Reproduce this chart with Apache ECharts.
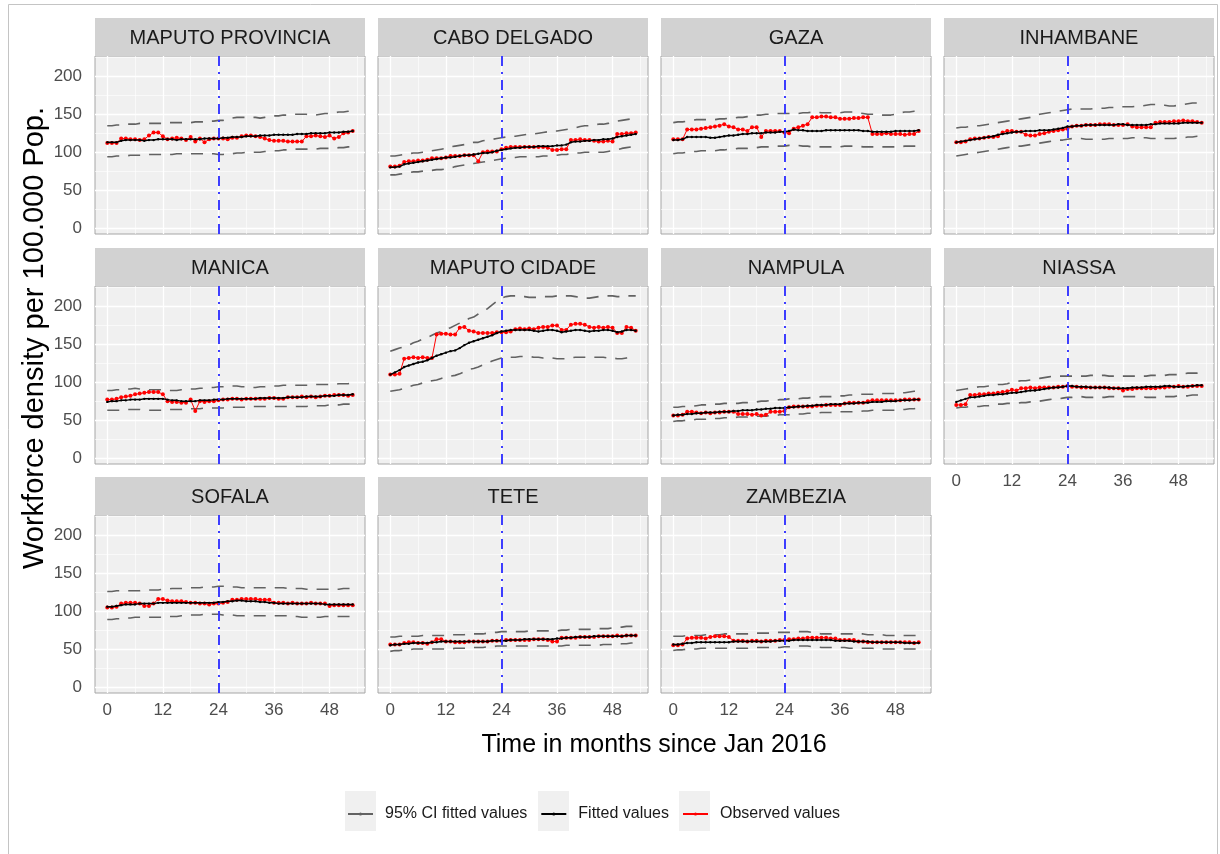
<!DOCTYPE html>
<html>
<head>
<meta charset="utf-8">
<script src="https://cdn.jsdelivr.net/npm/echarts@6/dist/echarts.min.js"></script>
<style>
html,body{margin:0;padding:0;background:#ffffff;}
#chart{width:1220px;height:854px;}
</style>
</head>
<body>
<div id="chart"></div>
<script>
// ---------- categories / ticks ----------
const panels = ['MAPUTO PROVINCIA','CABO DELGADO','GAZA','INHAMBANE','MANICA','MAPUTO CIDADE','NAMPULA','NIASSA','SOFALA','TETE','ZAMBEZIA'];
const months = [0,1,2,3,4,5,6,7,8,9,10,11,12,13,14,15,16,17,18,19,20,21,22,23,24,25,26,27,28,29,30,31,32,33,34,35,36,37,38,39,40,41,42,43,44,45,46,47,48,49,50,51,52,53];
const xTicks = [0,12,24,36,48];
const xMinor = [6,18,30,42,54];
const yTicks = [0,50,100,150,200];
const yMinor = [25,75,125,175,225];
const interventionMonth = 24;
const legendNames = ['95% CI fitted values','Fitted values','Observed values'];
const xTitle = 'Time in months since Jan 2016';
const yTitle = 'Workforce density per 100.000 Pop.';

// ---------- series values (month 0..53) ----------
// MAPUTO PROVINCIA
const mpObs = [112,112,112,118,118,117,117,116,117,122,126,126,121,117,118,119,118,116,120,114,118,113,117,118,118,118,117,119,119,121,122,122,121,120,118,116,115,115,115,114,114,114,114,121,121,122,121,120,122,118,120,125,126,128];
const mpFit = [113,113,113,115,116,116,116,116,115,116,116,117,117,117,117,116,117,117,117,117,117,118,118,118,118,119,119,120,120,120,121,121,121,122,122,122,123,123,123,123,123,124,124,124,125,125,125,125,126,126,126,127,127,128];
const mpHi  = [135,135,136,136,137,137,137,138,138,138,138,138,138,139,139,139,139,139,139,140,140,140,141,141,142,142,143,145,146,146,146,146,146,145,146,147,148,148,149,149,150,150,150,150,149,149,150,151,151,152,153,153,154,155];
const mpLo  = [94,94,95,95,95,96,96,96,96,97,97,97,97,97,97,98,98,98,98,98,98,98,98,98,97,97,98,98,99,99,100,100,100,100,101,101,102,102,103,103,104,104,104,104,104,104,105,105,105,105,106,106,107,107];
// CABO DELGADO
const cdObs = [81,81,82,87,88,88,89,89,90,92,92,92,93,95,95,95,96,96,96,88,100,101,101,101,104,106,107,107,107,107,107,107,107,107,106,103,103,104,104,116,116,117,116,116,115,114,114,115,114,124,124,125,125,126];
const cdFit = [80,80,81,84,85,86,87,88,89,90,91,92,93,93,94,95,96,96,97,98,99,99,100,102,103,104,105,106,106,107,107,107,108,108,108,108,109,109,110,113,114,114,115,115,116,116,117,117,118,120,121,122,123,124];
const cdHi  = [95,95,96,97,98,99,99,100,101,102,103,104,105,107,108,109,110,112,113,113,115,116,117,118,119,120,121,121,122,123,124,124,125,126,127,128,128,129,130,131,132,134,135,135,136,137,137,138,139,141,142,143,144,145];
const cdLo  = [70,70,71,72,73,74,74,75,76,76,77,77,78,79,81,82,83,84,85,86,87,88,89,90,91,92,93,93,94,94,94,94,94,95,95,95,96,97,97,98,99,99,100,100,100,100,100,101,102,103,105,106,107,108];
// GAZA
const gzObs = [117,117,117,130,130,130,131,132,133,134,135,137,134,133,130,130,128,133,133,120,128,128,128,128,126,125,131,133,135,137,146,146,147,147,146,146,144,144,144,145,145,146,146,124,124,124,125,124,124,124,123,124,124,128];
const gzFit = [116,116,117,120,120,120,120,120,119,119,120,121,122,122,123,124,124,125,125,125,126,126,126,127,127,128,130,129,129,128,128,128,128,129,129,129,129,129,129,129,129,128,128,127,127,127,127,127,128,128,128,128,128,129];
const gzHi  = [139,140,140,141,142,143,143,143,143,143,144,144,145,145,146,146,147,148,149,149,150,150,151,151,151,151,151,151,152,152,153,153,152,152,152,152,152,153,153,153,152,151,150,150,150,149,149,149,150,152,153,153,154,154];
const gzLo  = [98,99,99,100,101,101,102,102,102,102,103,103,104,104,105,105,105,106,106,107,107,107,108,108,108,109,109,109,108,108,107,107,107,107,107,107,107,108,108,108,108,107,107,107,107,107,107,107,107,107,108,108,108,108];
// INHAMBANE
const inObs = [113,113,114,117,118,118,119,120,120,121,126,128,128,127,127,123,122,122,124,125,127,128,129,130,131,134,135,135,136,136,136,137,137,137,136,136,136,137,134,133,133,133,133,139,140,140,140,141,141,142,141,141,140,139];
const inFit = [113,114,115,116,117,118,119,120,121,123,124,125,126,127,127,128,128,128,129,129,129,130,131,132,134,134,135,135,136,136,136,136,136,136,136,137,137,136,136,136,136,136,137,137,138,138,138,138,138,139,139,139,139,139];
const inHi  = [132,133,133,134,135,135,136,137,138,139,140,141,142,143,144,145,146,148,150,151,152,153,154,155,156,157,157,157,157,157,158,158,158,159,159,160,160,160,160,161,161,162,163,163,162,162,161,161,162,163,164,165,165,166];
const inLo  = [95,96,97,98,99,100,101,102,103,104,105,106,107,108,108,109,110,111,112,113,114,115,116,116,117,118,118,118,117,117,117,117,117,118,118,118,118,118,119,119,119,119,118,118,118,118,118,118,119,119,120,120,121,121];
// MANICA
const maObs = [77,77,78,80,81,82,84,85,86,87,87,87,84,75,74,74,73,73,77,62,75,74,75,75,76,77,77,78,78,77,78,78,78,78,78,79,79,78,78,80,80,80,81,80,81,80,81,82,82,83,83,83,82,83];
const maFit = [74,75,75,76,76,77,77,77,78,78,78,78,78,77,76,76,75,75,75,75,76,76,76,77,77,77,78,78,78,78,78,78,78,79,79,79,79,79,79,80,80,80,80,81,81,81,81,82,82,82,83,83,83,84];
const maHi  = [89,89,90,90,91,91,92,91,90,90,90,90,90,89,89,89,90,90,91,91,92,92,93,93,94,94,94,95,95,94,94,93,93,94,94,95,95,95,96,96,96,96,96,96,96,97,97,97,97,97,98,98,98,99];
const maLo  = [63,63,63,63,64,64,64,64,63,63,63,63,63,64,64,64,64,65,65,65,65,66,66,66,66,66,67,67,67,67,67,68,68,68,68,68,68,68,68,68,68,68,68,68,69,69,69,69,70,70,70,71,71,71];
// MAPUTO CIDADE
const mcObs = [110,110,111,131,132,133,132,133,132,132,163,164,164,163,163,172,173,168,167,165,165,165,165,166,166,166,167,170,171,170,171,170,172,173,173,175,175,169,169,176,177,177,176,173,172,173,172,173,172,165,165,173,172,168];
const mcFit = [110,113,116,120,122,124,126,127,129,132,135,137,139,141,142,145,149,152,154,156,158,160,162,165,167,168,169,169,169,169,169,168,167,168,169,169,168,166,167,168,169,169,168,167,168,168,169,169,168,166,167,169,169,168];
const mcHi  = [141,143,145,147,149,152,154,157,159,162,165,167,170,172,175,178,181,184,186,190,194,197,202,207,211,213,214,214,213,213,212,212,212,213,213,213,214,214,214,214,213,212,211,211,212,213,214,214,214,213,213,214,214,214];
const mcLo  = [88,89,90,92,94,96,97,99,101,102,103,105,107,108,109,111,114,117,118,120,123,125,128,130,132,133,133,133,134,134,134,133,133,132,132,132,131,131,131,132,133,133,133,133,133,133,133,132,132,131,131,132,133,133];
// NAMPULA
const naObs = [56,56,57,61,61,60,59,60,59,60,60,61,61,61,58,58,58,57,58,56,57,61,61,61,62,67,68,68,68,68,68,69,69,70,70,70,70,72,73,73,73,73,75,76,76,76,76,76,76,76,77,77,77,77];
const naFit = [56,57,57,58,58,59,59,60,60,60,61,61,61,62,62,63,63,63,64,64,65,65,66,66,66,67,67,68,68,69,69,70,70,70,71,71,71,72,72,72,73,73,73,74,74,74,75,75,75,76,76,76,77,77];
const naHi  = [67,67,68,68,68,69,70,70,70,71,71,72,72,72,72,73,73,74,74,75,75,76,76,77,77,78,78,78,79,79,80,80,81,81,81,81,82,82,83,83,84,84,84,84,84,85,85,85,85,86,86,87,88,88];
const naLo  = [48,49,49,50,50,51,51,51,52,52,52,53,53,53,54,54,54,55,55,55,55,56,56,57,57,57,58,58,58,59,59,59,60,60,60,61,61,61,61,61,61,62,62,63,63,63,63,63,63,64,64,65,65,66];
// NIASSA
const niObs = [70,70,71,83,83,84,84,85,85,86,87,88,90,89,92,92,93,92,93,93,93,93,94,94,95,94,94,93,93,93,93,93,93,92,92,92,89,91,91,92,92,92,92,92,93,93,94,94,95,94,94,95,95,95];
const niFit = [74,76,78,80,80,81,82,83,83,84,84,85,86,86,87,88,89,89,90,91,92,93,93,94,95,95,94,94,94,93,93,93,93,93,92,92,92,92,93,93,93,94,94,94,94,95,95,94,94,94,95,95,96,96];
const niHi  = [89,90,91,92,93,94,94,95,96,97,97,98,100,101,102,102,103,104,105,106,107,108,108,108,108,108,108,108,108,109,109,109,109,108,108,108,108,108,108,108,108,108,109,109,109,109,110,110,110,111,112,112,112,113];
const niLo  = [66,67,67,68,68,68,69,69,70,71,71,72,72,72,73,73,74,75,75,76,77,78,78,79,80,80,81,81,80,80,80,80,80,81,81,81,81,81,81,81,81,80,80,80,80,81,81,81,82,82,82,83,83,83];
// SOFALA
const soObs = [105,105,106,110,111,111,111,110,107,107,110,116,116,114,113,113,113,112,111,111,110,110,109,110,110,111,112,115,115,116,116,116,116,115,115,115,111,111,111,110,111,110,110,110,111,110,110,110,107,108,108,108,108,108];
const soFit = [106,106,107,108,109,109,109,110,110,110,110,111,111,111,111,111,111,111,111,111,111,111,111,111,112,112,113,113,114,114,113,113,113,112,112,111,111,110,110,110,110,110,110,110,110,110,110,109,109,109,109,109,109,109];
const soHi  = [126,126,127,127,127,127,127,127,128,128,128,128,129,129,130,130,130,130,131,131,131,132,132,132,133,133,133,132,132,131,131,131,131,131,131,131,131,131,131,130,130,130,130,129,129,129,129,129,129,129,129,130,130,130];
const soLo  = [89,89,90,90,91,91,92,92,92,92,92,92,92,93,93,93,94,94,95,95,95,96,96,96,96,95,95,95,94,94,94,94,94,94,94,94,94,94,94,94,93,93,92,92,92,92,92,93,93,93,93,93,93,93];
// TETE
const teObs = [56,56,56,58,59,59,58,58,57,59,63,63,60,60,59,59,59,60,60,60,60,60,61,61,61,62,62,62,62,62,62,63,63,63,62,60,60,65,65,65,65,66,66,66,66,67,67,67,67,68,67,68,68,68];
const teFit = [55,56,56,57,57,58,58,58,58,59,59,60,60,60,60,60,60,60,60,60,60,60,61,61,61,61,62,62,62,63,63,63,63,63,63,63,64,64,65,65,66,66,66,66,67,67,67,67,67,67,67,68,68,68];
const teHi  = [66,66,67,67,67,67,67,68,68,68,68,68,68,69,69,69,69,70,70,70,70,71,72,72,73,73,73,73,73,73,74,74,74,74,74,74,74,75,75,76,76,76,76,76,76,77,77,77,78,78,79,80,80,80];
const teLo  = [47,48,48,49,49,50,50,50,50,50,50,50,50,50,51,51,51,51,52,52,52,53,53,54,54,54,54,54,54,54,54,54,54,54,54,54,54,54,55,55,55,55,55,55,55,55,56,56,56,56,57,57,58,58];
// ZAMBEZIA
const zaObs = [55,55,56,64,65,65,65,64,66,67,67,67,66,61,61,61,60,61,61,60,61,61,61,62,62,63,63,64,64,65,65,65,65,65,64,64,62,62,62,62,60,60,59,59,59,59,59,59,59,59,59,59,58,59];
const zaFit = [56,56,57,58,58,59,59,59,59,59,59,59,59,60,60,60,60,60,60,60,60,60,61,61,61,61,62,62,62,62,62,62,62,62,62,61,61,61,61,60,60,60,60,59,59,59,59,59,59,59,58,58,58,58];
const zaHi  = [67,67,67,68,68,68,68,69,69,69,69,70,70,70,70,70,70,70,71,71,71,71,72,72,72,72,72,73,73,73,72,71,70,70,70,70,70,70,70,70,70,70,69,69,69,69,68,68,68,68,68,68,68,68];
const zaLo  = [48,49,49,50,50,50,51,51,51,51,51,51,51,51,51,51,51,52,52,52,52,52,52,52,53,53,53,54,54,54,53,53,52,52,52,52,52,52,51,51,51,51,51,51,50,50,50,50,50,50,50,50,50,50];

const panelSeries = [
  [mpObs, mpFit, mpHi, mpLo],
  [cdObs, cdFit, cdHi, cdLo],
  [gzObs, gzFit, gzHi, gzLo],
  [inObs, inFit, inHi, inLo],
  [maObs, maFit, maHi, maLo],
  [mcObs, mcFit, mcHi, mcLo],
  [naObs, naFit, naHi, naLo],
  [niObs, niFit, niHi, niLo],
  [soObs, soFit, soHi, soLo],
  [teObs, teFit, teHi, teLo],
  [zaObs, zaFit, zaHi, zaLo]
];

// ---------- layout / styles ----------
const FONT = '"Liberation Sans", Arial, Helvetica, sans-serif';
const colLeft = [95, 378, 661, 944];
const rowTop = [56, 286, 515];
const PW = 270, PH = 178, STRIP_H = 38;
const PANEL_BG = '#F0F0F0', STRIP_BG = '#D2D2D2';

const chart = echarts.init(document.getElementById('chart'), null, {renderer: 'canvas'});
const grid = [], xAxis = [], yAxis = [], series = [];
const graphic = [];

// outer frame
graphic.push({type: 'rect', z: 0, shape: {x: 8.5, y: 4.5, width: 1209, height: 900},
  style: {fill: 'none', stroke: '#c4c4c4', lineWidth: 1}});

const pairs = arr => months.map((m, k) => [m, arr[k]]);

panels.forEach((name, i) => {
  const col = i % 4, row = Math.floor(i / 4);
  const left = colLeft[col], top = rowTop[row];
  const showX = row === 2 || (row === 1 && col === 3);
  const showY = col === 0;
  grid.push({left: left, top: top, width: PW, height: PH, show: true,
    backgroundColor: PANEL_BG, borderColor: '#a6a6a6', borderWidth: 1});
  xAxis.push({gridIndex: i, type: 'value', min: -2.65, max: 55.65,
    axisLine: {show: false},
    axisTick: {show: showX, length: 5, lineStyle: {color: '#333333', width: 1}, customValues: xTicks},
    axisLabel: {show: showX, customValues: xTicks, fontSize: 17, color: '#4D4D4D', fontFamily: FONT, margin: 9},
    splitLine: {show: false}});
  yAxis.push({gridIndex: i, type: 'value', min: -8, max: 227,
    axisLine: {show: false},
    axisTick: {show: showY, length: 5, lineStyle: {color: '#333333', width: 1}, customValues: yTicks},
    axisLabel: {show: showY, customValues: yTicks, fontSize: 17, color: '#4D4D4D', fontFamily: FONT, margin: 13},
    splitLine: {show: false}});

  // strip
  graphic.push({type: 'rect', z: 1, shape: {x: left, y: top - STRIP_H, width: PW, height: STRIP_H},
    style: {fill: STRIP_BG}});
  graphic.push({type: 'text', z: 2, x: left + PW / 2, y: top - STRIP_H / 2 + 1,
    style: {text: name, align: 'center', verticalAlign: 'middle', fontSize: 20, fontFamily: FONT, fill: '#1A1A1A'}});

  // background grid lines (white), drawn via the panel's own axes
  const gl = [];
  xTicks.forEach(v => gl.push({xAxis: v, lineStyle: {color: '#ffffff', width: 1.3, type: 'solid'}}));
  xMinor.forEach(v => gl.push({xAxis: v, lineStyle: {color: '#ffffff', width: 0.6, type: 'solid'}}));
  yTicks.forEach(v => gl.push({yAxis: v, lineStyle: {color: '#ffffff', width: 1.3, type: 'solid'}}));
  yMinor.forEach(v => gl.push({yAxis: v, lineStyle: {color: '#ffffff', width: 0.6, type: 'solid'}}));
  series.push({type: 'line', name: 'grid' + i, xAxisIndex: i, yAxisIndex: i, data: [], silent: true,
    markLine: {silent: true, z: 1, symbol: ['none', 'none'], label: {show: false}, animation: false, data: gl}});

  const [obs, fit, hi, lo] = panelSeries[i];
  [hi, lo].forEach(arr => {
    series.push({type: 'line', name: legendNames[0], xAxisIndex: i, yAxisIndex: i, z: 3,
      data: pairs(arr), symbol: 'none', silent: true,
      lineStyle: {color: '#626262', width: 1.6, type: [12, 9]}, itemStyle: {color: '#626262'}});
  });
  series.push({type: 'line', name: legendNames[2], xAxisIndex: i, yAxisIndex: i, z: 4,
    data: pairs(obs), symbol: 'circle', symbolSize: 4, showSymbol: true, silent: true,
    lineStyle: {color: '#FF0000', width: 1}, itemStyle: {color: '#FF0000'}});
  series.push({type: 'line', name: legendNames[1], xAxisIndex: i, yAxisIndex: i, z: 5,
    data: pairs(fit), symbol: 'circle', symbolSize: 2.4, showSymbol: true, silent: true,
    lineStyle: {color: '#000000', width: 1.5}, itemStyle: {color: '#000000'},
    markLine: {silent: true, z: 6, symbol: ['none', 'none'], label: {show: false}, animation: false,
      data: [{xAxis: interventionMonth, lineStyle: {color: '#3535FF', width: 1.9, type: [10, 6, 2, 6]}}]}});
});

// axis titles
graphic.push({type: 'text', z: 2, x: 654, y: 745,
  style: {text: xTitle, align: 'center', verticalAlign: 'middle', fontSize: 25, fontFamily: FONT, fill: '#000000'}});
graphic.push({type: 'text', z: 2, x: 35, y: 338, rotation: Math.PI / 2,
  style: {text: yTitle, align: 'center', verticalAlign: 'middle', fontSize: 29, fontFamily: FONT, fill: '#000000'}});

// legend key backgrounds
[345, 538, 679].forEach(x => graphic.push({type: 'rect', z: 1, shape: {x: x, y: 791, width: 31, height: 40},
  style: {fill: '#F0F0F0'}}));

chart.setOption({
  animation: false,
  backgroundColor: '#ffffff',
  grid: grid,
  xAxis: xAxis,
  yAxis: yAxis,
  graphic: graphic,
  legend: {
    data: legendNames, left: 347, top: 806, padding: 0, orient: 'horizontal',
    itemWidth: 25, itemHeight: 4, itemGap: 13, selectedMode: false,
    lineStyle: {type: 'solid'},
    textStyle: {fontSize: 16, color: '#1A1A1A', fontFamily: FONT, padding: [0, 0, 0, 7]}
  },
  series: series
});
</script>
</body>
</html>
